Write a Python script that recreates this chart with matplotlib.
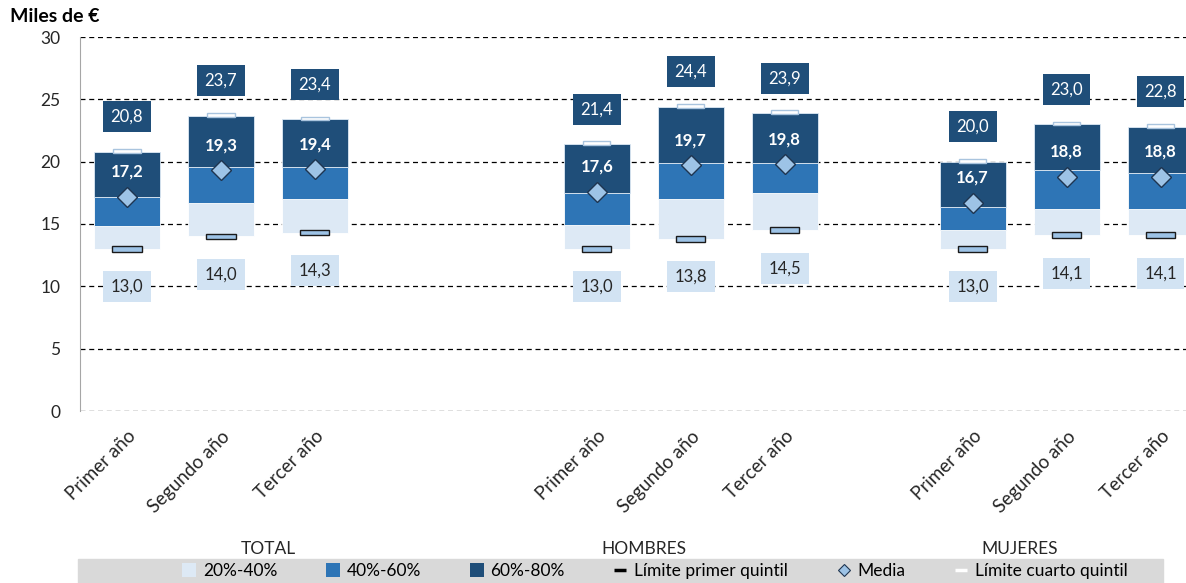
import matplotlib
matplotlib.use("Agg")
import matplotlib.pyplot as plt
import numpy as np
from matplotlib.patches import Rectangle, Patch
from matplotlib.lines import Line2D
from matplotlib.transforms import blended_transform_factory

# ── Datos (miles de €) ───────────────────────────────────────────────────────
grupos   = ["TOTAL", "HOMBRES", "MUJERES"]
anios    = ["Primer año", "Segundo año", "Tercer año"]
p20      = [13.0, 14.0, 14.3, 13.0, 13.8, 14.5, 13.0, 14.1, 14.1]
p40      = [14.8, 16.7, 17.0, 14.9, 17.0, 17.5, 14.5, 16.2, 16.2]
p60      = [17.2, 19.6, 19.6, 17.5, 19.9, 19.9, 16.4, 19.3, 19.1]
p80      = [20.8, 23.7, 23.4, 21.4, 24.4, 23.9, 20.0, 23.0, 22.8]
media    = [17.2, 19.3, 19.4, 17.6, 19.7, 19.8, 16.7, 18.8, 18.8]

# ── Paleta ───────────────────────────────────────────────────────────────────
C_LIGHT  = "#dde9f5"
C_MID    = "#2e75b6"
C_DARK   = "#1f4e79"
C_MARK   = "#9dc3e6"
C_LBOX   = "#d2e3f3"
C_TEXT   = "#262626"

plt.rcParams.update({
    "font.family": ["Lato", "DejaVu Sans"],
    "font.size":   11,
})

# posiciones en el eje (hueco entre grupos)
group_start = [0, 5, 9]
x = np.array([g + i for g in group_start for i in range(len(anios))], dtype=float)
group_center = [1.5, 5.5, 9.5]

p20, p40, p60, p80, media = map(np.array, (p20, p40, p60, p80, media))

def fmt(v):
    return f"{v:.1f}".replace(".", ",")

fig = plt.figure(figsize=(11.86, 5.83), dpi=100)
ax = fig.add_axes([80/1186, 1 - 411/583, 1 - 80/1186, 374/583])

w = 0.70
ax.bar(x, p40 - p20, w, bottom=p20, color=C_LIGHT, edgecolor="white", lw=0.6, zorder=3)
ax.bar(x, p60 - p40, w, bottom=p40, color=C_MID,   edgecolor="white", lw=0.6, zorder=3)
ax.bar(x, p80 - p60, w, bottom=p60, color=C_DARK,  edgecolor="#dde9f5", lw=0.6, zorder=3)

# límites de quintil
ax.bar(x, 0.45, 0.31, bottom=p20 - 0.22, color=C_MARK, edgecolor="#1a1a1a", lw=1.0, zorder=4)
ax.bar(x, 0.30, 0.29, bottom=p80 - 0.08, color="white", edgecolor="#a9c4de", lw=1.0, zorder=4)

# media
ax.plot(x, media, ls="none", marker="D", ms=10, mfc=C_MARK, mec="#1f3550", mew=1.0, zorder=5)

# etiquetas
for xi, top, m, low in zip(x, p80, media, p20):
    ax.text(xi, top + 2.8, fmt(top), ha="center", va="center", color="white",
            fontsize=12, zorder=6,
            bbox=dict(boxstyle="square,pad=0.45", fc=C_DARK, ec="none"))
    ax.text(xi, m + 2.0, fmt(m), ha="center", va="center", color="white",
            fontsize=12, fontweight="bold", zorder=6)
    ax.text(xi, low - 3.05, fmt(low), ha="center", va="center", color=C_TEXT,
            fontsize=12, zorder=6,
            bbox=dict(boxstyle="square,pad=0.45", fc=C_LBOX, ec="none"))

ax.set_xlim(-0.5, 11.27)
ax.set_ylim(0, 30)
ax.set_yticks(range(0, 31, 5))
ax.yaxis.grid(True, linestyle=(0, (4, 3)), color="black", lw=0.9)
ax.set_axisbelow(True)
for s in ("top", "right", "bottom"):
    ax.spines[s].set_visible(False)
ax.spines["left"].set_color("#a6a6a6")
ax.tick_params(axis="y", length=0, pad=14, labelsize=12.5, labelcolor=C_TEXT)
ax.tick_params(axis="x", length=0, pad=12)
ax.set_xticks(x)
ax.set_xticklabels(anios * len(grupos), rotation=45, ha="right",
                   rotation_mode="anchor", fontsize=13.5, color=C_TEXT)

trans = blended_transform_factory(ax.transData, fig.transFigure)
for gc, g in zip(group_center, grupos):
    ax.text(gc, 1 - 549/583, g, transform=trans, ha="center", va="center",
            fontsize=12.5, color=C_TEXT, clip_on=False)

fig.text(10/1186, 1 - 17/583, "Miles de €", fontweight="bold", fontsize=14,
         va="center", ha="left", color="black")

# leyenda sobre banda gris
fig.patches.append(Rectangle((78/1186, 0), (1163 - 78)/1186, 24/583,
                             transform=fig.transFigure, color="#d9d9d9", zorder=0))
handles = [
    Patch(fc=C_LIGHT, ec="none"),
    Patch(fc=C_MID, ec="none"),
    Patch(fc=C_DARK, ec="none"),
    Line2D([], [], ls="none", marker="_", ms=9, mew=2.5, color="black"),
    Line2D([], [], ls="none", marker="D", ms=6, mfc=C_MARK, mec="#1f3550", mew=0.8),
    Line2D([], [], ls="none", marker="_", ms=9, mew=2.5, color="white"),
]
labels = ["20%-40%", "40%-60%", "60%-80%", "Límite primer quintil", "Media",
          "Límite cuarto quintil"]
fig.legend(handles, labels, loc="center", bbox_to_anchor=(655/1186, 12/583),
           ncol=6, frameon=False, fontsize=12.5, handlelength=0.8, handleheight=0.8,
           handletextpad=0.4, columnspacing=2.8, borderpad=0)

fig.savefig("out.png", dpi=100)
